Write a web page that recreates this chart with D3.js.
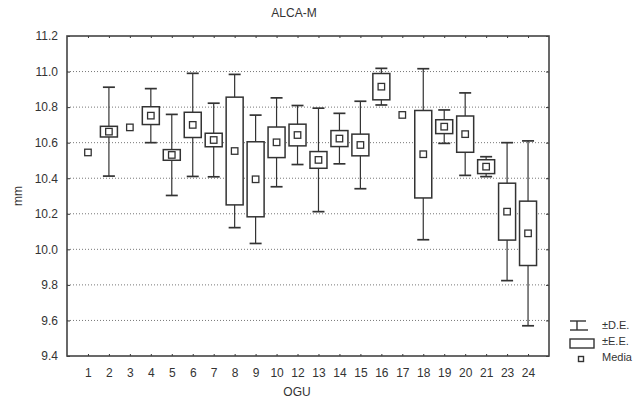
<!DOCTYPE html>
<html>
<head>
<meta charset="utf-8">
<script src="https://cdn.jsdelivr.net/npm/d3@7"></script>
<style>
  html, body { margin: 0; padding: 0; background: #fff; }
  svg { display: block; font-family: "Liberation Sans", Arial, sans-serif; }
</style>
</head>
<body>
<svg id="chart" width="638" height="405"></svg>
<script>
// OGU groups (11 and 22 absent)
const categories = ["1","2","3","4","5","6","7","8","9","10","12","13","14","15","16","17","18","19","20","21","23","24"];
// Mean (mm) per group
const means = [10.545,10.662,10.686,10.752,10.531,10.700,10.615,10.553,10.394,10.602,10.643,10.503,10.623,10.587,10.915,10.756,10.535,10.690,10.648,10.465,10.212,10.090];
// Standard error (±E.E.); null where only one observation
const stdErr = [null,0.030,null,0.050,0.030,0.071,0.038,0.303,0.211,0.086,0.061,0.047,0.045,0.061,0.074,null,0.246,0.039,0.102,0.039,0.160,0.181];
// Standard deviation (±D.E.)
const stdDev = [null,0.250,null,0.152,0.228,0.290,0.207,0.431,0.361,0.250,0.166,0.291,0.142,0.246,0.103,null,0.481,0.094,0.232,0.056,0.388,0.520];
const yTicks = [9.4,9.6,9.8,10.0,10.2,10.4,10.6,10.8,11.0,11.2];
const gridTicks = [9.6,9.8,10.0,10.2,10.4,10.6,10.8,11.0];
const legendLabels = ["±D.E.","±E.E.","Media"];

const rows = categories.map((c, i) => ({ c, m: means[i], se: stdErr[i], sd: stdDev[i] }));

const svg = d3.select("#chart");
const plotL = 67, plotR = 549, plotT = 36, plotB = 356;
const ink = "#333";

const x = d3.scalePoint().domain(categories).range([plotL, plotR]).padding(1);
const y = d3.scaleLinear().domain([9.4, 11.2]).range([plotB, plotT]);

// dotted horizontal grid
svg.append("g").selectAll("line").data(gridTicks).join("line")
  .attr("x1", plotL).attr("x2", plotR)
  .attr("y1", d => y(d)).attr("y2", d => y(d))
  .attr("stroke", "#777").attr("stroke-width", 1).attr("stroke-dasharray", "1,2");

// y axis labels and inward ticks
const yAxis = d3.axisLeft(y).tickValues(yTicks).tickFormat(d3.format(".1f")).tickSize(-3).tickPadding(9);
const gy = svg.append("g").attr("transform", `translate(${plotL},0)`).call(yAxis);
gy.select(".domain").remove();
gy.selectAll("line").attr("stroke", ink);
gy.selectAll("text").attr("font-size", 12).attr("fill", ink);

const gyr = svg.append("g").attr("transform", `translate(${plotR},0)`)
  .call(d3.axisRight(y).tickValues(yTicks).tickSize(-3).tickFormat(""));
gyr.select(".domain").remove();
gyr.selectAll("line").attr("stroke", ink);

// x axis labels and inward ticks
const gx = svg.append("g").attr("transform", `translate(0,${plotB})`)
  .call(d3.axisBottom(x).tickSize(-2).tickPadding(12));
gx.select(".domain").remove();
gx.selectAll("line").attr("stroke", ink);
gx.selectAll("text").attr("font-size", 12).attr("fill", ink);

const gxt = svg.append("g").attr("transform", `translate(0,${plotT})`)
  .call(d3.axisTop(x).tickSize(-2).tickFormat(""));
gxt.select(".domain").remove();
gxt.selectAll("line").attr("stroke", ink);

// plot frame
svg.append("rect").attr("x", plotL).attr("y", plotT)
  .attr("width", plotR - plotL).attr("height", plotB - plotT)
  .attr("fill", "none").attr("stroke", "#444").attr("stroke-width", 1.6);

// whiskers: mean ± SD
const capW = 12, boxW = 17, mk = 6.5;
const withSpread = rows.filter(d => d.sd != null);
const wg = svg.append("g").attr("stroke", ink);
wg.selectAll("line.v").data(withSpread).join("line").attr("class", "v")
  .attr("stroke-width", 1.2)
  .attr("x1", d => x(d.c)).attr("x2", d => x(d.c))
  .attr("y1", d => y(d.m + d.sd)).attr("y2", d => y(d.m - d.sd));
wg.selectAll("line.t").data(withSpread).join("line").attr("class", "t")
  .attr("stroke-width", 1.7)
  .attr("x1", d => x(d.c) - capW / 2).attr("x2", d => x(d.c) + capW / 2)
  .attr("y1", d => y(d.m + d.sd)).attr("y2", d => y(d.m + d.sd));
wg.selectAll("line.b").data(withSpread).join("line").attr("class", "b")
  .attr("stroke-width", 1.7)
  .attr("x1", d => x(d.c) - capW / 2).attr("x2", d => x(d.c) + capW / 2)
  .attr("y1", d => y(d.m - d.sd)).attr("y2", d => y(d.m - d.sd));

// boxes: mean ± SE
svg.append("g").selectAll("rect").data(rows.filter(d => d.se != null)).join("rect")
  .attr("x", d => x(d.c) - boxW / 2).attr("width", boxW)
  .attr("y", d => y(d.m + d.se)).attr("height", d => y(d.m - d.se) - y(d.m + d.se))
  .attr("fill", "#fff").attr("stroke", ink).attr("stroke-width", 1.5);

// mean markers
svg.append("g").selectAll("rect").data(rows).join("rect")
  .attr("x", d => x(d.c) - mk / 2).attr("y", d => y(d.m) - mk / 2)
  .attr("width", mk).attr("height", mk)
  .attr("fill", "#fff").attr("stroke", ink).attr("stroke-width", 1.3);

// titles
svg.append("text").attr("x", 294).attr("y", 17).attr("text-anchor", "middle")
  .attr("font-size", 12).attr("fill", ink).text("ALCA-M");
svg.append("text").attr("x", 297).attr("y", 396).attr("text-anchor", "middle")
  .attr("font-size", 12).attr("fill", ink).text("OGU");
svg.append("text").attr("transform", "translate(22,196) rotate(-90)")
  .attr("text-anchor", "middle").attr("font-size", 12).attr("fill", ink).text("mm");

// legend
const lg = svg.append("g").attr("stroke", ink).attr("stroke-width", 1.4).attr("fill", "#fff");
lg.append("line").attr("x1", 577).attr("x2", 577).attr("y1", 321).attr("y2", 330);
lg.append("line").attr("x1", 570).attr("x2", 586).attr("y1", 321).attr("y2", 321);
lg.append("line").attr("x1", 570).attr("x2", 588).attr("y1", 330).attr("y2", 330);
lg.append("rect").attr("x", 570).attr("y", 339).attr("width", 24).attr("height", 9);
lg.append("rect").attr("x", 578.5).attr("y", 356.5).attr("width", 5).attr("height", 5);
svg.append("g").selectAll("text").data(legendLabels).join("text")
  .attr("x", 602).attr("y", (d, i) => 329 + i * 16)
  .attr("font-size", 11).attr("fill", ink).text(d => d);
</script>
</body>
</html>
